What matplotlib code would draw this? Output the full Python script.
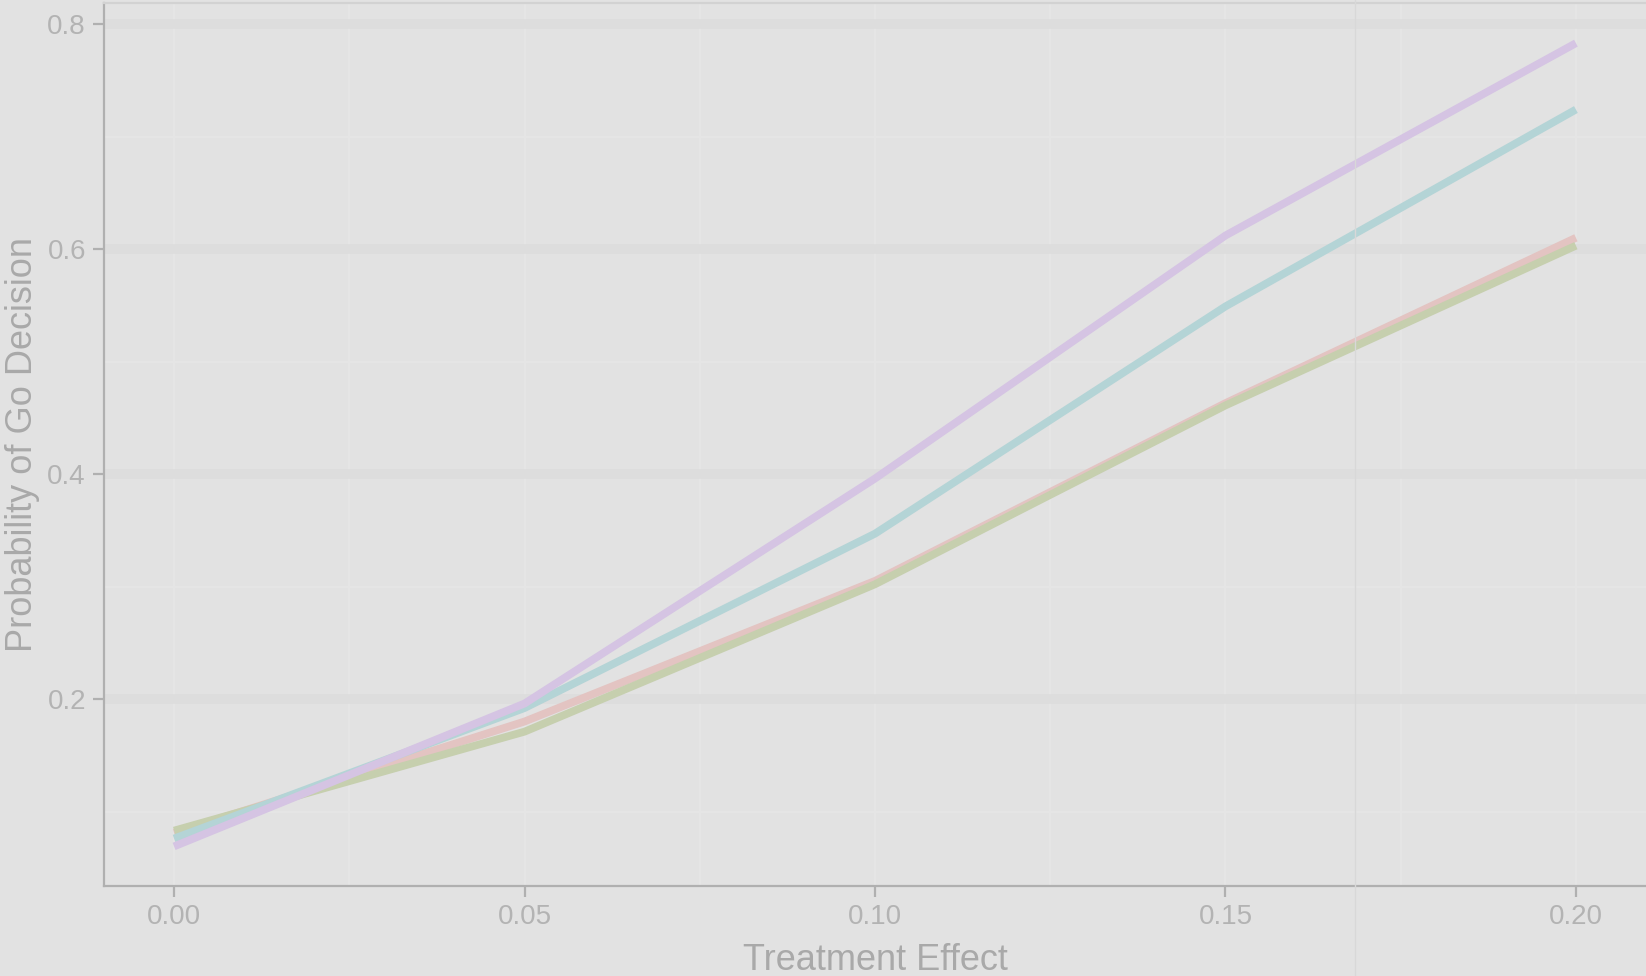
import matplotlib
matplotlib.use("Agg")
import matplotlib.pyplot as plt
from matplotlib.lines import Line2D
from matplotlib.ticker import MultipleLocator

plt.rcParams['font.family'] = ['Liberation Sans', 'DejaVu Sans']

# Data
treatment_effect = [0.00, 0.05, 0.10, 0.15, 0.20]
series_red = [0.081, 0.180, 0.305, 0.463, 0.610]
series_green = [0.083, 0.171, 0.302, 0.461, 0.603]
series_teal = [0.076, 0.192, 0.347, 0.549, 0.724]
series_purple = [0.069, 0.196, 0.396, 0.612, 0.783]

series = [series_red, series_green, series_teal, series_purple]
colors = ['#e3c4c2', '#c6cfae', '#b4d4d6', '#d5c4e3']

bg = '#e2e2e2'
txt = '#b3b3b3'

fig = plt.figure(figsize=(16.46, 9.76), dpi=100, facecolor=bg)
ax = fig.add_axes([104 / 1646, 90 / 976, 1 - 104 / 1646, 883 / 976])
ax.set_facecolor(bg)

for ys, c in zip(series, colors):
    ax.plot(treatment_effect, ys, color=c, linewidth=5.6, solid_capstyle='butt', zorder=3)

ax.set_xlim(-0.01, 0.21)
ax.set_ylim(0.0338, 0.8187)
ax.set_xticks(treatment_effect)
ax.set_xticklabels([f"{v:.2f}" for v in treatment_effect])
ax.set_yticks([0.2, 0.4, 0.6, 0.8])
ax.set_yticklabels(['0.2', '0.4', '0.6', '0.8'])
ax.xaxis.set_minor_locator(MultipleLocator(0.025))
ax.yaxis.set_minor_locator(MultipleLocator(0.1))

# ggplot-ish grid: soft wide bands for major y, faint minor lines
ax.grid(which='major', axis='y', color='#dddddd', linewidth=7, zorder=0)
ax.grid(which='minor', axis='y', color='#e6e6e6', linewidth=1.2, zorder=0)
ax.grid(which='both', axis='x', color='#e6e6e6', linewidth=1.2, zorder=0)
ax.set_axisbelow(True)

for side in ['left', 'bottom']:
    ax.spines[side].set_color('#b0b0b0')
    ax.spines[side].set_linewidth(1.6)
ax.spines['top'].set_color('#d2d2d2')
ax.spines['top'].set_linewidth(1.6)
ax.spines['right'].set_visible(False)

ax.tick_params(which='major', length=8, width=1.6, color='#b0b0b0',
               labelcolor=txt, labelsize=20, pad=5)
ax.tick_params(which='minor', length=0)

ax.set_xlabel('Treatment Effect', fontsize=26, color='#a9a9a9', labelpad=9)
ax.set_ylabel('Probability of Go Decision', fontsize=26, color='#a9a9a9', labelpad=5)

# faint vertical artefact line running through the whole image
fig.add_artist(Line2D([1355 / 1646, 1355 / 1646], [0, 1], transform=fig.transFigure,
                      color='#d8d8d8', linewidth=1.0))

fig.savefig('out.png', dpi=100, facecolor=bg)
